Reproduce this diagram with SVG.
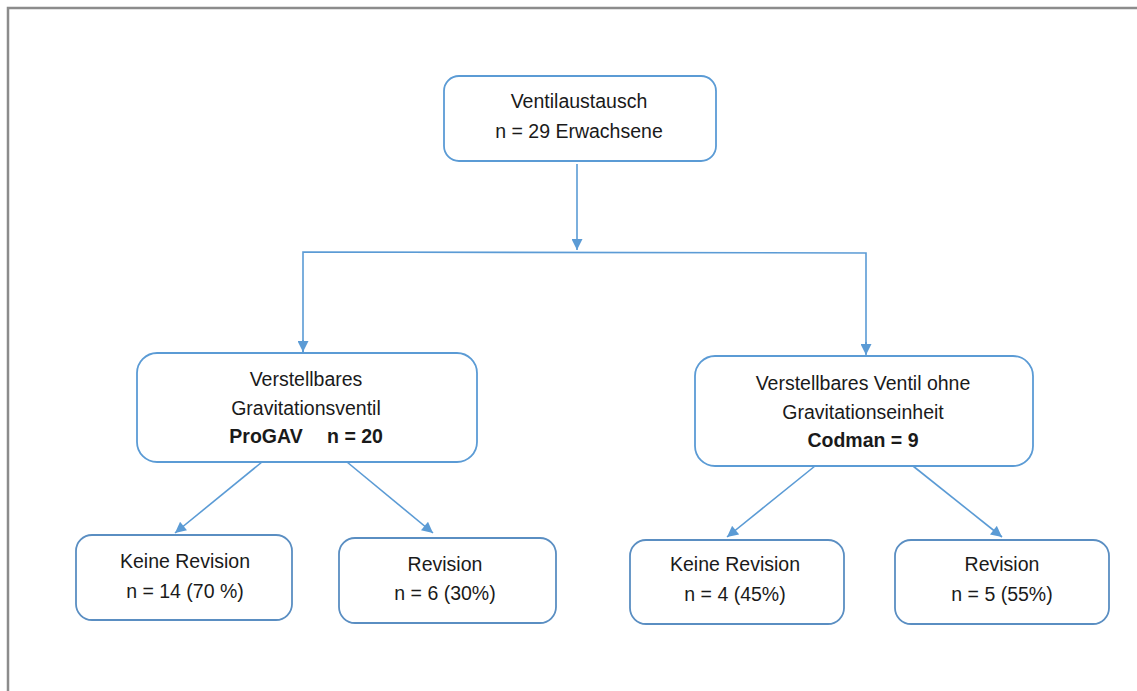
<svg xmlns="http://www.w3.org/2000/svg" width="1137" height="691" viewBox="0 0 1137 691">
<style>
  .frame{fill:none;stroke:#8c8c8c;stroke-width:2.5}
  .box{fill:#ffffff;stroke:#5b9bd5;stroke-width:1.8}
  .box2{fill:#ffffff;stroke:#5a8ec2;stroke-width:1.8}
  .conn{fill:none;stroke:#5b9bd5;stroke-width:1.6}
  text{font-family:"Liberation Sans",Arial,sans-serif;font-size:19.5px;fill:#1a1a1a;text-anchor:middle}
  .b{font-weight:bold}
</style>
<defs>
  <marker id="arrL" viewBox="0 0 10 10" refX="10" refY="5" markerWidth="12" markerHeight="11" markerUnits="userSpaceOnUse" orient="auto">
    <path d="M0,0 L10,5 L0,10 z" fill="#5b9bd5"/>
  </marker>
</defs>
<rect width="1137" height="691" fill="#ffffff"/>
<path class="frame" d="M8,691 L8,8 L1137,8"/>

<g id="connectors">
  <line class="conn" x1="577" y1="164" x2="577" y2="250" marker-end="url(#arrL)"/>
  <path class="conn" d="M303,352 L303,252 L866,253 L866,354"/>
  <line class="conn" x1="303" y1="340" x2="303" y2="352" marker-end="url(#arrL)"/>
  <line class="conn" x1="866" y1="342" x2="866" y2="355" marker-end="url(#arrL)"/>
  <line class="conn" x1="262" y1="462" x2="175" y2="533" marker-end="url(#arrL)"/>
  <line class="conn" x1="347" y1="462" x2="433" y2="533" marker-end="url(#arrL)"/>
  <line class="conn" x1="815" y1="466" x2="727" y2="537" marker-end="url(#arrL)"/>
  <line class="conn" x1="913" y1="466" x2="1002" y2="537" marker-end="url(#arrL)"/>
</g>

<g id="node-root">
  <rect class="box" x="444" y="76" width="272" height="85" rx="15"/>
  <text x="579" y="108">Ventilaustausch</text>
  <text x="579" y="138">n = 29 Erwachsene</text>
</g>

<g id="node-progav">
  <rect class="box" x="137" y="353" width="340" height="109" rx="20"/>
  <text x="306" y="386">Verstellbares</text>
  <text x="306" y="415">Gravitationsventil</text>
  <text class="b" x="266" y="443">ProGAV</text>
  <text class="b" x="355" y="443">n = 20</text>
</g>

<g id="node-codman">
  <rect class="box" x="695" y="356" width="338" height="110" rx="20"/>
  <text x="863" y="390">Verstellbares Ventil ohne</text>
  <text x="863" y="419">Gravitationseinheit</text>
  <text class="b" x="863" y="447">Codman = 9</text>
</g>

<g id="node-l-keine">
  <rect class="box2" x="76" y="535" width="216" height="85" rx="16"/>
  <text x="185" y="568">Keine Revision</text>
  <text x="185" y="598">n = 14 (70 %)</text>
</g>

<g id="node-l-rev">
  <rect class="box2" x="339" y="538" width="217" height="85" rx="16"/>
  <text x="445" y="571">Revision</text>
  <text x="445" y="600">n = 6 (30%)</text>
</g>

<g id="node-r-keine">
  <rect class="box2" x="630" y="540" width="214" height="84" rx="16"/>
  <text x="735" y="571">Keine Revision</text>
  <text x="735" y="601">n = 4 (45%)</text>
</g>

<g id="node-r-rev">
  <rect class="box2" x="895" y="540" width="214" height="84" rx="16"/>
  <text x="1002" y="571">Revision</text>
  <text x="1002" y="601">n = 5 (55%)</text>
</g>
</svg>
